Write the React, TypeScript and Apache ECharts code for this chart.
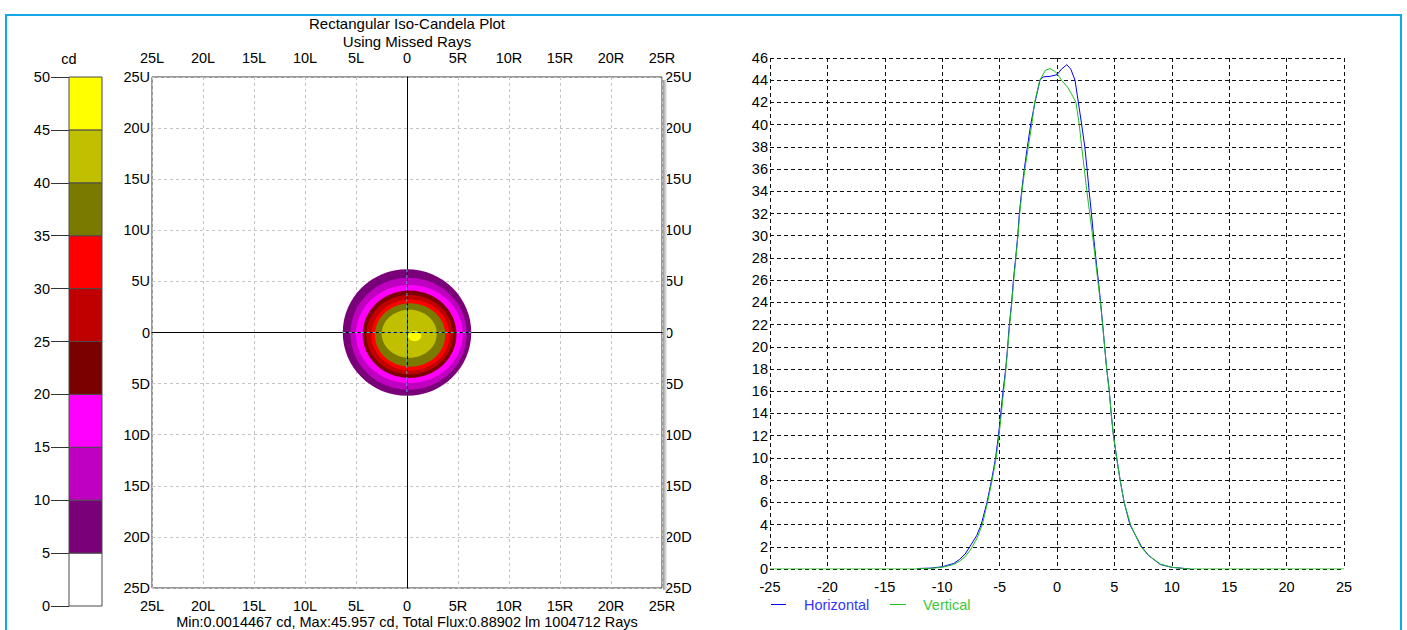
import React, { useEffect, useRef } from "react";
import * as echarts from "echarts";

// ---- colour scale (cd) ----
const levelLows = [0, 5, 10, 15, 20, 25, 30, 35, 40, 45];
const levelStep = 5;
const levelColors = ["#ffffff", "#7a007a", "#c000c0", "#ff00ff", "#7a0000", "#c00000", "#ff0000", "#7a7a00", "#c0c000", "#ffff00"];
const colorbarTicks = ["0", "5", "10", "15", "20", "25", "30", "35", "40", "45", "50"];

// ---- iso-candela contours (degrees; +x = R, +y = U) ----
const contourLevels = [5, 10, 15, 20, 25, 30, 35, 40, 45];
const contourCx = [0.0, 0.15, 0.23, 0.25, 0.25, 0.33, 0.3, 0.22, 0.75];
const contourCy = [0.0, -0.12, -0.15, -0.16, -0.22, -0.24, -0.25, -0.12, -0.35];
const contourRx = [6.3, 5.7, 5.23, 4.6, 4.25, 3.83, 3.45, 2.7, 0.65];
const contourRy = [6.2, 5.48, 4.8, 4.28, 3.88, 3.48, 3.1, 2.35, 0.5];

const hvTicks = [-25, -20, -15, -10, -5, 0, 5, 10, 15, 20, 25];
const hTickLabels = ["25L", "20L", "15L", "10L", "5L", "0", "5R", "10R", "15R", "20R", "25R"];
const vTickLabels = ["25D", "20D", "15D", "10D", "5D", "0", "5U", "10U", "15U", "20U", "25U"];

// ---- profiles ----
const horizontalProfile = [
  [-12.2, 0], [-12, 0.05], [-11, 0.08], [-10, 0.2], [-9, 0.5], [-8.5, 0.85], [-8, 1.35], [-7.6, 2], [-7, 3],
  [-6.6, 4], [-6.1, 6], [-5.7, 8], [-5.35, 10], [-5.1, 12], [-4.9, 14], [-4.7, 16], [-4.47, 18], [-4.3, 20],
  [-4.15, 22], [-3.95, 24], [-3.8, 26], [-3.6, 28], [-3.42, 30], [-3.28, 32], [-3.08, 34], [-2.85, 36],
  [-2.58, 38], [-2.29, 40], [-1.92, 42], [-1.48, 44], [-1.2, 44.3], [-0.6, 44.35], [0, 44.5], [0.4, 45.0],
  [0.85, 45.4], [1.2, 45.0], [1.57, 44], [1.86, 42], [2.15, 40], [2.42, 38], [2.62, 36], [2.8, 34],
  [3.0, 32], [3.18, 30], [3.38, 28], [3.6, 26], [3.8, 24], [3.98, 22], [4.15, 20], [4.33, 18], [4.56, 16],
  [4.72, 14], [4.92, 12], [5.2, 10], [5.5, 8], [5.85, 6], [6.35, 4], [7.37, 2], [8, 1.2], [9, 0.4],
  [10, 0.15], [11, 0.06], [11.6, 0],
];
const verticalProfile = [
  [-25, 0], [-12.2, 0], [-12, 0.03], [-11, 0.06], [-10, 0.15], [-9, 0.4], [-8.5, 0.7], [-8, 1.1], [-7.5, 1.8],
  [-7, 2.7], [-6.5, 4], [-6.05, 6], [-5.65, 8], [-5.3, 10], [-5.05, 12], [-4.85, 14], [-4.65, 16],
  [-4.45, 18], [-4.28, 20], [-4.12, 22], [-3.93, 24], [-3.77, 26], [-3.58, 28], [-3.4, 30], [-3.25, 32],
  [-3.05, 34], [-2.8, 36], [-2.5, 38], [-2.2, 40], [-1.95, 42], [-1.5, 44], [-1.0, 44.9], [-0.6, 45.05],
  [-0.2, 44.8], [0, 44.6], [0.4, 44], [0.97, 43.3], [1.4, 42.5], [1.65, 42], [1.94, 40], [2.15, 38],
  [2.38, 36], [2.6, 34], [2.85, 32], [3.1, 30], [3.33, 28], [3.55, 26], [3.78, 24], [3.97, 22], [4.15, 20],
  [4.33, 18], [4.55, 16], [4.72, 14], [4.92, 12], [5.2, 10], [5.5, 8], [5.85, 6], [6.4, 4], [7.3, 2],
  [8, 1.2], [9, 0.45], [10, 0.15], [11, 0.05], [11.6, 0], [25, 0],
];

const titleLines = ["Rectangular Iso-Candela Plot", "Using Missed Rays"];
const statsText = "Min:0.0014467 cd, Max:45.957 cd, Total Flux:0.88902 lm 1004712 Rays";
const seriesNames = ["Horizontal", "Vertical"];
const seriesColors = ["#0000ff", "#22bb22"];
const legendTextColors = ["#3535ff", "#3cc83c"];
const cutColors = ["#4fc0c8", "#58c8e8"];

export default function App() {
  const ref = useRef<HTMLDivElement>(null);
  useEffect(() => {
    const chart = echarts.init(ref.current!, null, { renderer: "svg" });
    const font = '"Liberation Sans", Arial, sans-serif';
    const fs = 14.5;
    const txt = { fontFamily: font, fontSize: fs, color: "#000" };
    const hFmt = (v: number) => hTickLabels[hvTicks.indexOf(v)] ?? "";
    const vFmt = (v: number) => vTickLabels[hvTicks.indexOf(v)] ?? "";
    const lightGrid = { show: true, lineStyle: { color: "#c4c4c4", type: [3, 3], width: 1 } };
    const darkGrid = { show: true, lineStyle: { color: "#111", type: [4, 3], width: 1 } };

    const option: any = {
      animation: false,
      backgroundColor: "#fff",
      textStyle: { fontFamily: font },
      grid: [
        { left: 69, top: 77, width: 33, height: 529 },
        { left: 152, top: 77, width: 510, height: 511, show: true, borderColor: "#333", borderWidth: 1, backgroundColor: "#fff" },
        { left: 770, top: 58, width: 574, height: 511 },
      ],
      xAxis: [
        { gridIndex: 0, type: "value", min: 0, max: 1, show: false },
        {
          gridIndex: 1, type: "value", min: -25, max: 25, interval: 5, position: "bottom",
          axisLine: { show: false }, axisTick: { show: false },
          axisLabel: { ...txt, margin: 10, formatter: hFmt }, splitLine: lightGrid,
        },
        {
          gridIndex: 1, type: "value", min: -25, max: 25, interval: 5, position: "top",
          axisLine: { show: false }, axisTick: { show: false },
          axisLabel: { ...txt, margin: 12, formatter: hFmt }, splitLine: { show: false },
        },
        {
          gridIndex: 2, type: "value", min: -25, max: 25, interval: 5,
          axisLine: { show: false }, axisTick: { show: false },
          axisLabel: { ...txt, margin: 10 }, splitLine: darkGrid,
        },
        {
          gridIndex: 1, type: "value", min: -25, max: 25, z: 10,
          axisLine: { show: true, onZero: true, lineStyle: { color: "#000", width: 1 } },
          axisTick: { show: false }, axisLabel: { show: false }, splitLine: { show: false },
        },
      ],
      yAxis: [
        {
          gridIndex: 0, type: "value", min: 0, max: 50, interval: 5,
          axisLine: { show: false },
          axisTick: { show: true, length: 18, lineStyle: { color: "#333" } },
          axisLabel: { ...txt, margin: 19, formatter: (v: number) => colorbarTicks[levelLows.concat([50]).indexOf(v)] ?? "" },
          splitLine: { show: false },
          name: "cd", nameLocation: "end", nameGap: 11, nameTextStyle: { ...txt, align: "center" },
        },
        {
          gridIndex: 1, type: "value", min: -25, max: 25, interval: 5, position: "left",
          axisLine: { show: false }, axisTick: { show: false },
          axisLabel: { ...txt, margin: 2, formatter: vFmt }, splitLine: lightGrid,
        },
        {
          gridIndex: 1, type: "value", min: -25, max: 25, interval: 5, position: "right",
          axisLine: { show: false }, axisTick: { show: false },
          axisLabel: { ...txt, margin: 3, formatter: vFmt }, splitLine: { show: false },
        },
        {
          gridIndex: 2, type: "value", min: 0, max: 46, interval: 2,
          axisLine: { show: false },
          axisTick: { show: true, length: 3, lineStyle: { color: "#333" } },
          axisLabel: { ...txt, margin: 2 }, splitLine: darkGrid,
        },
        {
          gridIndex: 1, type: "value", min: -25, max: 25, z: 10,
          axisLine: { show: true, onZero: true, lineStyle: { color: "#000", width: 1 } },
          axisTick: { show: false }, axisLabel: { show: false }, splitLine: { show: false },
        },
      ],
      series: [
        {
          type: "custom", name: "colorbar", xAxisIndex: 0, yAxisIndex: 0, silent: true,
          data: levelLows.map((lo, i) => [lo, lo + levelStep, i]),
          encode: { y: [0, 1] },
          renderItem: (_p: any, api: any) => {
            const lo = api.value(0), hi = api.value(1), ci = api.value(2);
            const a = api.coord([0, hi]);
            const b = api.coord([1, lo]);
            return {
              type: "rect",
              shape: { x: a[0], y: a[1], width: b[0] - a[0], height: b[1] - a[1] },
              style: { fill: levelColors[ci], stroke: "#4a4a4a", lineWidth: 1 },
            };
          },
        },
        {
          type: "custom", name: "contours", xAxisIndex: 1, yAxisIndex: 1, silent: true, z: 3,
          data: contourLevels.map((lv, i) => [contourCx[i], contourCy[i], contourRx[i], contourRy[i], lv]),
          encode: { x: 0, y: 1 },
          renderItem: (_p: any, api: any) => {
            const c = api.coord([api.value(0), api.value(1)]);
            const s = api.size([api.value(2), api.value(3)]);
            const lv = api.value(4);
            return {
              type: "ellipse",
              shape: { cx: c[0], cy: c[1], rx: s[0], ry: s[1] },
              style: { fill: levelColors[levelLows.indexOf(lv)] },
            };
          },
        },
        {
          type: "custom", name: "cuts", xAxisIndex: 1, yAxisIndex: 1, silent: true, z: 20,
          data: [[contourRx[0], contourRy[0]]],
          encode: { x: 0, y: 1 },
          renderItem: (_p: any, api: any) => {
            const rx = api.value(0), ry = api.value(1);
            const l = api.coord([-rx, 0]), r = api.coord([rx, 0]);
            const t = api.coord([0, ry]), b = api.coord([0, -ry]);
            return {
              type: "group",
              children: [
                { type: "line", shape: { x1: l[0], y1: l[1], x2: r[0], y2: r[1] }, style: { stroke: cutColors[0], lineWidth: 1, lineDash: [3, 3] } },
                { type: "line", shape: { x1: t[0], y1: t[1], x2: b[0], y2: b[1] }, style: { stroke: cutColors[1], lineWidth: 1, lineDash: [3, 3] } },
              ],
            };
          },
        },
        {
          type: "line", name: seriesNames[0], xAxisIndex: 3, yAxisIndex: 3, data: horizontalProfile,
          showSymbol: false, symbol: "none", lineStyle: { color: seriesColors[0], width: 1 }, z: 4,
        },
        {
          type: "line", name: seriesNames[1], xAxisIndex: 3, yAxisIndex: 3, data: verticalProfile,
          showSymbol: false, symbol: "none", lineStyle: { color: seriesColors[1], width: 1 }, z: 5,
        },
      ],
      graphic: [
        {
          type: "rect", silent: true, z: 100,
          shape: { x: 6, y: 15, width: 1395, height: 640 },
          style: { fill: "none", stroke: "#14a6e6", lineWidth: 2 },
        },
        {
          type: "rect", silent: true, z: 1,
          shape: { x: 663, y: 80, width: 4, height: 510 },
          style: {
            fill: new echarts.graphic.LinearGradient(0, 0, 1, 0, [
              { offset: 0, color: "#9a9a9a" },
              { offset: 1, color: "#f2f2f2" },
            ]),
          },
        },
        {
          type: "text", x: 407, y: 23, silent: true,
          style: { text: titleLines[0], fontFamily: font, fontSize: 15, fill: "#000", align: "center", verticalAlign: "middle" },
        },
        {
          type: "text", x: 407, y: 41, silent: true,
          style: { text: titleLines[1], fontFamily: font, fontSize: 15, fill: "#000", align: "center", verticalAlign: "middle" },
        },
        {
          type: "text", x: 407, y: 622, silent: true,
          style: { text: statsText, fontFamily: font, fontSize: fs, fill: "#000", align: "center", verticalAlign: "middle" },
        },
        {
          type: "line", silent: true,
          shape: { x1: 771, y1: 604.5, x2: 786, y2: 604.5 },
          style: { stroke: seriesColors[0], lineWidth: 1 },
        },
        {
          type: "text", x: 804, y: 605, silent: true,
          style: { text: seriesNames[0], fontFamily: font, fontSize: fs, fill: legendTextColors[0], align: "left", verticalAlign: "middle" },
        },
        {
          type: "line", silent: true,
          shape: { x1: 890, y1: 604.5, x2: 906, y2: 604.5 },
          style: { stroke: seriesColors[1], lineWidth: 1 },
        },
        {
          type: "text", x: 923, y: 605, silent: true,
          style: { text: seriesNames[1], fontFamily: font, fontSize: fs, fill: legendTextColors[1], align: "left", verticalAlign: "middle" },
        },
      ],
    };
    chart.setOption(option);
    return () => chart.dispose();
  }, []);
  return (
    <div
      ref={ref}
      style={{ position: "fixed", left: 0, top: 0, width: 1407, height: 630, background: "#fff" }}
    />
  );
}
